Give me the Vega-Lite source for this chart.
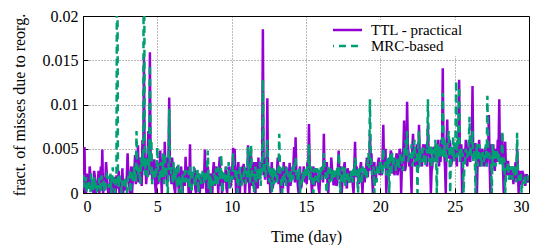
{
"$schema": "https://vega.github.io/schema/vega-lite/v6.json",
"width": 446, "height": 177,
"autosize": {"type": "none"},
"padding": {"left": 83, "top": 16, "right": 11, "bottom": 52},
"background": "white",
"config": {
 "font": "Liberation Serif, Times New Roman, DejaVu Serif, serif",
 "view": {"stroke": "black", "strokeWidth": 1},
 "axis": {"labelFontSize": 16, "labelColor": "black", "titleFontSize": 16, "titleColor": "black", "titleFontWeight": "normal", "labelFont": "Liberation Serif, Times New Roman, serif", "titleFont": "Liberation Serif, Times New Roman, serif", "gridColor": "#000", "gridOpacity": 0.55, "gridDash": [1, 2], "gridWidth": 1, "tickColor": "black", "tickSize": -5, "domain": false, "labelPadding": 10},
 "legend": {"labelFont": "Liberation Serif, Times New Roman, serif"}
},
"data": {"values": [
{"t":0,"a":0.001,"b":0.0014},{"t":0.1,"a":0.0052,"b":0.0006},{"t":0.2,"a":0,"b":0.0018},{"t":0.3,"a":0.0015,"b":0.001},{"t":0.4,"a":0.0005,"b":0.0012},{"t":0.5,"a":0.002,"b":0},{"t":0.6,"a":0.0012,"b":0.0016},{"t":0.7,"a":0,"b":0.0011},{"t":0.8,"a":0.0018,"b":0.0005},{"t":0.9,"a":0.0009,"b":0.0013},
{"t":1,"a":0.0014,"b":0.0009},{"t":1.1,"a":0,"b":0.0017},{"t":1.2,"a":0.003,"b":0},{"t":1.3,"a":0.0049,"b":0.0012},{"t":1.4,"a":0.0006,"b":0.0015},{"t":1.5,"a":0.0012,"b":0.0006},{"t":1.6,"a":0.0022,"b":0.002},{"t":1.7,"a":0,"b":0.001},{"t":1.8,"a":0.0003,"b":0.0014},{"t":1.9,"a":0.0015,"b":0},
{"t":2,"a":0.0006,"b":0.0029},{"t":2.1,"a":0.0018,"b":0.001},{"t":2.2,"a":0,"b":0.0012},{"t":2.3,"a":0.0012,"b":0.04},{"t":2.4,"a":0.0025,"b":0.0008},{"t":2.5,"a":0.0007,"b":0.0015},{"t":2.6,"a":0.001,"b":0},{"t":2.7,"a":0,"b":0.0012},{"t":2.8,"a":0.0016,"b":0.0009},{"t":2.9,"a":0.0008,"b":0.0005},
{"t":3,"a":0.0045,"b":0.0012},{"t":3.1,"a":0.0012,"b":0.0018},{"t":3.2,"a":0.002,"b":0},{"t":3.3,"a":0,"b":0.0025},{"t":3.4,"a":0.003,"b":0.0015},{"t":3.5,"a":0.0043,"b":0.002},{"t":3.6,"a":0.0018,"b":0.007},{"t":3.7,"a":0.0054,"b":0.003},{"t":3.8,"a":0.0025,"b":0.0022},{"t":3.9,"a":0.0035,"b":0.004},
{"t":4,"a":0.006,"b":0.0045},{"t":4.1,"a":0.0154,"b":0.04},{"t":4.2,"a":0.004,"b":0.003},{"t":4.3,"a":0.0025,"b":0.0035},{"t":4.4,"a":0.007,"b":0.0055},{"t":4.5,"a":0.0159,"b":0.0145},{"t":4.6,"a":0.0045,"b":0.006},{"t":4.7,"a":0.003,"b":0.002},{"t":4.8,"a":0.0038,"b":0.0025},{"t":4.9,"a":0,"b":0.003},
{"t":5,"a":0.0035,"b":0.0052},{"t":5.1,"a":0.0015,"b":0.002},{"t":5.2,"a":0.0048,"b":0.003},{"t":5.3,"a":0,"b":0.0018},{"t":5.4,"a":0.003,"b":0.0045},{"t":5.5,"a":0.0058,"b":0.0045},{"t":5.6,"a":0.004,"b":0.0025},{"t":5.7,"a":0.002,"b":0},{"t":5.8,"a":0.0108,"b":0.0095},{"t":5.9,"a":0.0025,"b":0.003},
{"t":6,"a":0.004,"b":0.002},{"t":6.1,"a":0.0012,"b":0.0035},{"t":6.2,"a":0,"b":0.0015},{"t":6.3,"a":0.0025,"b":0.0012},{"t":6.4,"a":0.0018,"b":0.0034},{"t":6.5,"a":0.001,"b":0},{"t":6.6,"a":0.003,"b":0.0018},{"t":6.7,"a":0,"b":0.0022},{"t":6.8,"a":0.0015,"b":0.0012},{"t":6.9,"a":0.0041,"b":0.0025},
{"t":7,"a":0.0015,"b":0.0018},{"t":7.1,"a":0,"b":0.0025},{"t":7.2,"a":0.0055,"b":0.003},{"t":7.3,"a":0.002,"b":0},{"t":7.4,"a":0.001,"b":0.0022},{"t":7.5,"a":0.0028,"b":0.0012},{"t":7.6,"a":0,"b":0.002},{"t":7.7,"a":0.0014,"b":0.0028},{"t":7.8,"a":0.0022,"b":0.001},{"t":7.9,"a":0.0009,"b":0.0016},
{"t":8,"a":0.0012,"b":0.0015},{"t":8.1,"a":0.0025,"b":0.002},{"t":8.2,"a":0.0049,"b":0.0025},{"t":8.3,"a":0,"b":0.0012},{"t":8.4,"a":0.003,"b":0.0048},{"t":8.5,"a":0.001,"b":0.0018},{"t":8.6,"a":0.0022,"b":0},{"t":8.7,"a":0,"b":0.0014},{"t":8.8,"a":0.0035,"b":0.0022},{"t":8.9,"a":0.0015,"b":0.001},
{"t":9,"a":0.002,"b":0.0012},{"t":9.1,"a":0,"b":0.003},{"t":9.2,"a":0.0041,"b":0.002},{"t":9.3,"a":0.0025,"b":0.0043},{"t":9.4,"a":0.0008,"b":0},{"t":9.5,"a":0.0015,"b":0.0022},{"t":9.6,"a":0.003,"b":0.001},{"t":9.7,"a":0,"b":0.0025},{"t":9.8,"a":0.0018,"b":0.0035},{"t":9.9,"a":0.0006,"b":0.0014},
{"t":10,"a":0.0018,"b":0.0022},{"t":10.1,"a":0.0051,"b":0.0045},{"t":10.2,"a":0.005,"b":0.003},{"t":10.3,"a":0,"b":0.0015},{"t":10.4,"a":0.0025,"b":0},{"t":10.5,"a":0.0008,"b":0.002},{"t":10.6,"a":0.002,"b":0.0028},{"t":10.7,"a":0.003,"b":0.0012},{"t":10.8,"a":0.0033,"b":0.0018},{"t":10.9,"a":0,"b":0.0025},
{"t":11,"a":0.0028,"b":0.0015},{"t":11.1,"a":0.0054,"b":0.0052},{"t":11.2,"a":0,"b":0.0025},{"t":11.3,"a":0.0048,"b":0.0054},{"t":11.4,"a":0.0015,"b":0.002},{"t":11.5,"a":0.0035,"b":0},{"t":11.6,"a":0,"b":0.003},{"t":11.7,"a":0.0022,"b":0.0018},{"t":11.8,"a":0.004,"b":0.0015},{"t":11.9,"a":0.0025,"b":0.0035},
{"t":12,"a":0.003,"b":0.0025},{"t":12.1,"a":0.0185,"b":0.0128},{"t":12.2,"a":0.0025,"b":0.0035},{"t":12.3,"a":0.004,"b":0.002},{"t":12.4,"a":0.0107,"b":0.006},{"t":12.5,"a":0.002,"b":0.003},{"t":12.6,"a":0,"b":0.0022},{"t":12.7,"a":0.0035,"b":0},{"t":12.8,"a":0.001,"b":0.0028},{"t":12.9,"a":0.0025,"b":0.0015},
{"t":13,"a":0.0018,"b":0.002},{"t":13.1,"a":0.004,"b":0.0028},{"t":13.2,"a":0.003,"b":0.0067},{"t":13.3,"a":0,"b":0.0018},{"t":13.4,"a":0.0022,"b":0},{"t":13.5,"a":0.0035,"b":0.0025},{"t":13.6,"a":0.0012,"b":0.0015},{"t":13.7,"a":0.0025,"b":0.003},{"t":13.8,"a":0,"b":0.002},{"t":13.9,"a":0.0034,"b":0.0012},
{"t":14,"a":0.0015,"b":0.0012},{"t":14.1,"a":0.0025,"b":0.003},{"t":14.2,"a":0.0052,"b":0.0035},{"t":14.3,"a":0.0063,"b":0.004},{"t":14.4,"a":0.002,"b":0.0025},{"t":14.5,"a":0,"b":0.0015},{"t":14.6,"a":0.003,"b":0},{"t":14.7,"a":0.0008,"b":0.001},{"t":14.8,"a":0.0018,"b":0.0025},{"t":14.9,"a":0.0022,"b":0.0015},
{"t":15,"a":0.002,"b":0.0025},{"t":15.1,"a":0.0035,"b":0.003},{"t":15.2,"a":0.0078,"b":0.0055},{"t":15.3,"a":0.0025,"b":0.002},{"t":15.4,"a":0,"b":0.0018},{"t":15.5,"a":0.003,"b":0},{"t":15.6,"a":0.001,"b":0.0028},{"t":15.7,"a":0.0022,"b":0.0015},{"t":15.8,"a":0.0018,"b":0.0022},{"t":15.9,"a":0,"b":0.0029},
{"t":16,"a":0.0015,"b":0.0029},{"t":16.1,"a":0.003,"b":0.002},{"t":16.2,"a":0.0067,"b":0.0045},{"t":16.3,"a":0.002,"b":0.0025},{"t":16.4,"a":0.0035,"b":0},{"t":16.5,"a":0,"b":0.003},{"t":16.6,"a":0.0025,"b":0.0012},{"t":16.7,"a":0.004,"b":0.0022},{"t":16.8,"a":0.0018,"b":0.0028},{"t":16.9,"a":0.001,"b":0.0015},
{"t":17,"a":0.0025,"b":0.002},{"t":17.1,"a":0.0012,"b":0.0028},{"t":17.2,"a":0.0048,"b":0.0045},{"t":17.3,"a":0.003,"b":0},{"t":17.4,"a":0,"b":0.0025},{"t":17.5,"a":0.0022,"b":0.0012},{"t":17.6,"a":0.0035,"b":0.003},{"t":17.7,"a":0.001,"b":0.0015},{"t":17.8,"a":0.0028,"b":0.0022},{"t":17.9,"a":0.0018,"b":0.001},
{"t":18,"a":0.0012,"b":0.0015},{"t":18.1,"a":0.0025,"b":0.0022},{"t":18.2,"a":0,"b":0.003},{"t":18.3,"a":0.0058,"b":0.004},{"t":18.4,"a":0.003,"b":0.0018},{"t":18.5,"a":0.0015,"b":0},{"t":18.6,"a":0.0022,"b":0.0012},{"t":18.7,"a":0.0035,"b":0.0028},{"t":18.8,"a":0,"b":0.003},{"t":18.9,"a":0.0018,"b":0.002},
{"t":19,"a":0.0025,"b":0.003},{"t":19.1,"a":0.004,"b":0.0022},{"t":19.2,"a":0.003,"b":0.0045},{"t":19.3,"a":0.0067,"b":0.0106},{"t":19.4,"a":0.0045,"b":0.0035},{"t":19.5,"a":0,"b":0.0025},{"t":19.6,"a":0.0035,"b":0},{"t":19.7,"a":0.0015,"b":0.0018},{"t":19.8,"a":0.0028,"b":0.003},{"t":19.9,"a":0.004,"b":0.0022},
{"t":20,"a":0.0035,"b":0.0025},{"t":20.1,"a":0.002,"b":0.003},{"t":20.2,"a":0.0077,"b":0.005},{"t":20.3,"a":0.0045,"b":0.0035},{"t":20.4,"a":0,"b":0.002},{"t":20.5,"a":0.0025,"b":0.004},{"t":20.6,"a":0.004,"b":0},{"t":20.7,"a":0.0048,"b":0.0035},{"t":20.8,"a":0.0022,"b":0.0045},{"t":20.9,"a":0.0038,"b":0.003},
{"t":21,"a":0.003,"b":0.0035},{"t":21.1,"a":0.0045,"b":0.0028},{"t":21.2,"a":0.0025,"b":0.004},{"t":21.3,"a":0.005,"b":0.003},{"t":21.4,"a":0,"b":0.0045},{"t":21.5,"a":0.004,"b":0.0025},{"t":21.6,"a":0.0082,"b":0.005},{"t":21.7,"a":0.0028,"b":0.006},{"t":21.8,"a":0.0103,"b":0.007},{"t":21.9,"a":0.0045,"b":0.0038},
{"t":22,"a":0.004,"b":0.0045},{"t":22.1,"a":0,"b":0.0055},{"t":22.2,"a":0.0067,"b":0.0035},{"t":22.3,"a":0.0045,"b":0.006},{"t":22.4,"a":0.0035,"b":0.004},{"t":22.5,"a":0.005,"b":0},{"t":22.6,"a":0.0077,"b":0.007},{"t":22.7,"a":0.004,"b":0.0045},{"t":22.8,"a":0.003,"b":0.0035},{"t":22.9,"a":0.0055,"b":0.005},
{"t":23,"a":0.0045,"b":0.004},{"t":23.1,"a":0.0035,"b":0.005},{"t":23.2,"a":0.0077,"b":0.0106},{"t":23.3,"a":0.005,"b":0.0035},{"t":23.4,"a":0,"b":0.0055},{"t":23.5,"a":0.003,"b":0.0045},{"t":23.6,"a":0.0052,"b":0.004},{"t":23.7,"a":0.0045,"b":0.006},{"t":23.8,"a":0.0035,"b":0},{"t":23.9,"a":0.006,"b":0.005},
{"t":24,"a":0.005,"b":0.0055},{"t":24.1,"a":0.006,"b":0.004},{"t":24.2,"a":0.0141,"b":0.0113},{"t":24.3,"a":0.0045,"b":0.006},{"t":24.4,"a":0,"b":0.0045},{"t":24.5,"a":0.0083,"b":0.005},{"t":24.6,"a":0.004,"b":0.007},{"t":24.7,"a":0.0055,"b":0},{"t":24.8,"a":0.0035,"b":0.0055},{"t":24.9,"a":0.0045,"b":0.0065},
{"t":25,"a":0.0055,"b":0.005},{"t":25.1,"a":0.004,"b":0.0127},{"t":25.2,"a":0.006,"b":0.006},{"t":25.3,"a":0.0128,"b":0.012},{"t":25.4,"a":0.0045,"b":0.0045},{"t":25.5,"a":0,"b":0.004},{"t":25.6,"a":0.005,"b":0},{"t":25.7,"a":0.004,"b":0.0035},{"t":25.8,"a":0.0055,"b":0.0045},{"t":25.9,"a":0.0048,"b":0.005},
{"t":26,"a":0.0045,"b":0.0086},{"t":26.1,"a":0.006,"b":0.005},{"t":26.2,"a":0.0121,"b":0.007},{"t":26.3,"a":0.004,"b":0.0045},{"t":26.4,"a":0.0055,"b":0},{"t":26.5,"a":0,"b":0.0055},{"t":26.6,"a":0.005,"b":0.004},{"t":26.7,"a":0.003,"b":0.005},{"t":26.8,"a":0.0045,"b":0.003},{"t":26.9,"a":0.004,"b":0.0045},
{"t":27,"a":0.0035,"b":0.004},{"t":27.1,"a":0.005,"b":0.0055},{"t":27.2,"a":0.0045,"b":0.011},{"t":27.3,"a":0.0088,"b":0.005},{"t":27.4,"a":0,"b":0.0035},{"t":27.5,"a":0.003,"b":0},{"t":27.6,"a":0.0055,"b":0.003},{"t":27.7,"a":0.0025,"b":0.005},{"t":27.8,"a":0.0045,"b":0.004},{"t":27.9,"a":0.006,"b":0.0035},
{"t":28,"a":0.0106,"b":0.0045},{"t":28.1,"a":0.004,"b":0.0035},{"t":28.2,"a":0.0067,"b":0.007},{"t":28.3,"a":0,"b":0.004},{"t":28.4,"a":0.0058,"b":0},{"t":28.5,"a":0.002,"b":0.0025},{"t":28.6,"a":0.0035,"b":0.0035},{"t":28.7,"a":0.0025,"b":0.002},{"t":28.8,"a":0.0015,"b":0.003},{"t":28.9,"a":0.003,"b":0.0015},
{"t":29,"a":0.002,"b":0.0025},{"t":29.1,"a":0.0035,"b":0.003},{"t":29.2,"a":0.005,"b":0.0068},{"t":29.3,"a":0,"b":0.002},{"t":29.4,"a":0.0025,"b":0.0015},{"t":29.5,"a":0.001,"b":0},{"t":29.6,"a":0.0022,"b":0.0012},{"t":29.7,"a":0.0015,"b":0.0018},{"t":29.8,"a":0.002,"b":0.001},{"t":29.9,"a":0.0012,"b":0.0015},
{"t":30,"a":0.0018,"b":0.0012},
{"t":0.05,"a":0.0003,"b":0.002},{"t":0.15,"a":0,"b":0.001},{"t":0.25,"a":0.0022,"b":0},{"t":0.35,"a":0.0008,"b":0.0015},{"t":0.45,"a":0.003,"b":0.0008},{"t":0.55,"a":0.0002,"b":0.0022},{"t":0.65,"a":0.0015,"b":0.0003},{"t":0.75,"a":0.0025,"b":0.0018},{"t":0.85,"a":0,"b":0.0012},{"t":0.95,"a":0.0012,"b":0},
{"t":1.05,"a":0.0025,"b":0.0005},{"t":1.15,"a":0.0008,"b":0.0012},{"t":1.25,"a":0.0012,"b":0.002},{"t":1.35,"a":0,"b":0.0008},{"t":1.45,"a":0.0018,"b":0},{"t":1.55,"a":0.0035,"b":0.0014},{"t":1.65,"a":0.0005,"b":0.0018},{"t":1.75,"a":0,"b":0.0006},{"t":1.85,"a":0.002,"b":0.0022},{"t":1.95,"a":0.001,"b":0.0012},
{"t":2.05,"a":0,"b":0.0015},{"t":2.15,"a":0.001,"b":0},{"t":2.25,"a":0.002,"b":0.0018},{"t":2.35,"a":0.0005,"b":0.0006},{"t":2.45,"a":0,"b":0.002},{"t":2.55,"a":0.0015,"b":0.001},{"t":2.65,"a":0.0028,"b":0.0014},{"t":2.75,"a":0.0012,"b":0.0008},{"t":2.85,"a":0.0003,"b":0.0018},{"t":2.95,"a":0.002,"b":0},
{"t":3.05,"a":0.002,"b":0.0018},{"t":3.15,"a":0,"b":0.0025},{"t":3.25,"a":0.003,"b":0.0008},{"t":3.35,"a":0.0015,"b":0.0015},{"t":3.45,"a":0.0022,"b":0.003},{"t":3.55,"a":0.001,"b":0.0012},{"t":3.65,"a":0.0035,"b":0.0025},{"t":3.75,"a":0.0012,"b":0.0018},{"t":3.85,"a":0.004,"b":0.001},{"t":3.95,"a":0.0008,"b":0.003},
{"t":4.05,"a":0.0025,"b":0.003},{"t":4.15,"a":0.0035,"b":0.002},{"t":4.25,"a":0.001,"b":0.004},{"t":4.35,"a":0.0045,"b":0.0015},{"t":4.45,"a":0.002,"b":0.0025},{"t":4.55,"a":0.003,"b":0.0035},{"t":4.65,"a":0.0015,"b":0.001},{"t":4.75,"a":0.0025,"b":0.0028},{"t":4.85,"a":0.001,"b":0.0015},{"t":4.95,"a":0.003,"b":0.0022},
{"t":5.05,"a":0.001,"b":0.0025},{"t":5.15,"a":0.003,"b":0.0012},{"t":5.25,"a":0.002,"b":0.0035},{"t":5.35,"a":0.0038,"b":0.002},{"t":5.45,"a":0.0015,"b":0.001},{"t":5.55,"a":0.0025,"b":0.003},{"t":5.65,"a":0.0008,"b":0.0015},{"t":5.75,"a":0.0035,"b":0.0022},{"t":5.85,"a":0.002,"b":0.003},{"t":5.95,"a":0.001,"b":0.0018},
{"t":6.05,"a":0.002,"b":0.001},{"t":6.15,"a":0.0005,"b":0.0022},{"t":6.25,"a":0.0018,"b":0.0028},{"t":6.35,"a":0.003,"b":0.0005},{"t":6.45,"a":0,"b":0.002},{"t":6.55,"a":0.0022,"b":0.0015},{"t":6.65,"a":0.0012,"b":0},{"t":6.75,"a":0.0025,"b":0.0018},{"t":6.85,"a":0.0008,"b":0.0025},{"t":6.95,"a":0.0015,"b":0.0012},
{"t":7.05,"a":0.003,"b":0.0012},{"t":7.15,"a":0.0012,"b":0.0005},{"t":7.25,"a":0,"b":0.002},{"t":7.35,"a":0.0022,"b":0.0018},{"t":7.45,"a":0.0018,"b":0.003},{"t":7.55,"a":0.0005,"b":0.0008},{"t":7.65,"a":0.0025,"b":0.0015},{"t":7.75,"a":0.001,"b":0},{"t":7.85,"a":0,"b":0.0022},{"t":7.95,"a":0.002,"b":0.001},
{"t":8.05,"a":0.0005,"b":0.0025},{"t":8.15,"a":0.002,"b":0.001},{"t":8.25,"a":0.0015,"b":0.0018},{"t":8.35,"a":0.0028,"b":0.003},{"t":8.45,"a":0,"b":0.0005},{"t":8.55,"a":0.0018,"b":0.0022},{"t":8.65,"a":0.001,"b":0.0015},{"t":8.75,"a":0.0025,"b":0.0008},{"t":8.85,"a":0.0008,"b":0.002},{"t":8.95,"a":0.003,"b":0.0028},
{"t":9.05,"a":0.0015,"b":0.0008},{"t":9.15,"a":0.0028,"b":0.0022},{"t":9.25,"a":0.0008,"b":0.0015},{"t":9.35,"a":0,"b":0.001},{"t":9.45,"a":0.002,"b":0.0025},{"t":9.55,"a":0.0012,"b":0.0018},{"t":9.65,"a":0.0005,"b":0.003},{"t":9.75,"a":0.0025,"b":0.0012},{"t":9.85,"a":0.003,"b":0.0005},{"t":9.95,"a":0.001,"b":0.002},
{"t":10.05,"a":0.003,"b":0.0015},{"t":10.15,"a":0.0015,"b":0.003},{"t":10.25,"a":0.0022,"b":0.002},{"t":10.35,"a":0.001,"b":0.0025},{"t":10.45,"a":0.0035,"b":0.0012},{"t":10.55,"a":0,"b":0.0028},{"t":10.65,"a":0.0018,"b":0.0008},{"t":10.75,"a":0.0012,"b":0.002},{"t":10.85,"a":0.0025,"b":0.003},{"t":10.95,"a":0.002,"b":0.001},
{"t":11.05,"a":0.0012,"b":0.0025},{"t":11.15,"a":0.002,"b":0.0018},{"t":11.25,"a":0.003,"b":0.001},{"t":11.35,"a":0.0008,"b":0.003},{"t":11.45,"a":0.0025,"b":0.0015},{"t":11.55,"a":0.0018,"b":0.0022},{"t":11.65,"a":0.0035,"b":0.0012},{"t":11.75,"a":0.0005,"b":0.0028},{"t":11.85,"a":0.0015,"b":0.002},{"t":11.95,"a":0.003,"b":0.0008},
{"t":12.05,"a":0.004,"b":0.003},{"t":12.15,"a":0.002,"b":0.0022},{"t":12.25,"a":0.0015,"b":0.0018},{"t":12.35,"a":0.003,"b":0.0035},{"t":12.45,"a":0.001,"b":0.0025},{"t":12.55,"a":0.0025,"b":0.0012},{"t":12.65,"a":0.0018,"b":0.003},{"t":12.75,"a":0.0005,"b":0.0015},{"t":12.85,"a":0.0022,"b":0.001},{"t":12.95,"a":0.0012,"b":0.0022},
{"t":13.05,"a":0.0025,"b":0.0012},{"t":13.15,"a":0.001,"b":0.002},{"t":13.25,"a":0.002,"b":0.0025},{"t":13.35,"a":0.0028,"b":0.001},{"t":13.45,"a":0.0005,"b":0.003},{"t":13.55,"a":0.0015,"b":0.0018},{"t":13.65,"a":0.003,"b":0.0008},{"t":13.75,"a":0.0012,"b":0.0022},{"t":13.85,"a":0.002,"b":0.0015},{"t":13.95,"a":0.0008,"b":0.0025},
{"t":14.05,"a":0.002,"b":0.0025},{"t":14.15,"a":0.003,"b":0.0015},{"t":14.25,"a":0.0012,"b":0.003},{"t":14.35,"a":0.0025,"b":0.002},{"t":14.45,"a":0.0008,"b":0.0012},{"t":14.55,"a":0.0018,"b":0.0028},{"t":14.65,"a":0.0005,"b":0.0015},{"t":14.75,"a":0.0022,"b":0.0008},{"t":14.85,"a":0.003,"b":0.002},{"t":14.95,"a":0.0012,"b":0.003},
{"t":15.05,"a":0.001,"b":0.0018},{"t":15.15,"a":0.0025,"b":0.0022},{"t":15.25,"a":0.003,"b":0.0012},{"t":15.35,"a":0.0015,"b":0.003},{"t":15.45,"a":0.002,"b":0.001},{"t":15.55,"a":0.0008,"b":0.0025},{"t":15.65,"a":0.0028,"b":0.0015},{"t":15.75,"a":0.0012,"b":0.0028},{"t":15.85,"a":0.0005,"b":0.0012},{"t":15.95,"a":0.002,"b":0.002},
{"t":16.05,"a":0.0025,"b":0.0015},{"t":16.15,"a":0.0012,"b":0.0025},{"t":16.25,"a":0.002,"b":0.003},{"t":16.35,"a":0.003,"b":0.001},{"t":16.45,"a":0.0008,"b":0.0022},{"t":16.55,"a":0.0022,"b":0.0018},{"t":16.65,"a":0.0015,"b":0.0028},{"t":16.75,"a":0.0028,"b":0.0012},{"t":16.85,"a":0.001,"b":0.002},{"t":16.95,"a":0.002,"b":0.0025},
{"t":17.05,"a":0.0008,"b":0.0022},{"t":17.15,"a":0.003,"b":0.0015},{"t":17.25,"a":0.0015,"b":0.0028},{"t":17.35,"a":0.0022,"b":0.0012},{"t":17.45,"a":0.0012,"b":0.003},{"t":17.55,"a":0.0028,"b":0.002},{"t":17.65,"a":0.0018,"b":0.0008},{"t":17.75,"a":0.0005,"b":0.0025},{"t":17.85,"a":0.002,"b":0.0015},{"t":17.95,"a":0.0025,"b":0.0018},
{"t":18.05,"a":0.002,"b":0.0025},{"t":18.15,"a":0.0008,"b":0.0012},{"t":18.25,"a":0.003,"b":0.002},{"t":18.35,"a":0.0018,"b":0.0035},{"t":18.45,"a":0.0025,"b":0.0015},{"t":18.55,"a":0.001,"b":0.0028},{"t":18.65,"a":0.0028,"b":0.002},{"t":18.75,"a":0.0015,"b":0.001},{"t":18.85,"a":0.0022,"b":0.0025},{"t":18.95,"a":0.0012,"b":0.003},
{"t":19.05,"a":0.003,"b":0.0015},{"t":19.15,"a":0.0018,"b":0.0035},{"t":19.25,"a":0.0025,"b":0.0028},{"t":19.35,"a":0.004,"b":0.004},{"t":19.45,"a":0.002,"b":0.002},{"t":19.55,"a":0.003,"b":0.003},{"t":19.65,"a":0.0012,"b":0.0025},{"t":19.75,"a":0.0028,"b":0.0012},{"t":19.85,"a":0.0035,"b":0.0028},{"t":19.95,"a":0.002,"b":0.0035},
{"t":20.05,"a":0.0025,"b":0.0035},{"t":20.15,"a":0.004,"b":0.002},{"t":20.25,"a":0.003,"b":0.004},{"t":20.35,"a":0.005,"b":0.0028},{"t":20.45,"a":0.0018,"b":0.003},{"t":20.55,"a":0.0035,"b":0.0025},{"t":20.65,"a":0.0028,"b":0.0045},{"t":20.75,"a":0.0045,"b":0.002},{"t":20.85,"a":0.003,"b":0.0035},{"t":20.95,"a":0.002,"b":0.004},
{"t":21.05,"a":0.004,"b":0.0025},{"t":21.15,"a":0.002,"b":0.004},{"t":21.25,"a":0.0035,"b":0.003},{"t":21.35,"a":0.0045,"b":0.0045},{"t":21.45,"a":0.003,"b":0.0035},{"t":21.55,"a":0.005,"b":0.0028},{"t":21.65,"a":0.0025,"b":0.004},{"t":21.75,"a":0.004,"b":0.005},{"t":21.85,"a":0.0055,"b":0.0035},{"t":21.95,"a":0.003,"b":0.0045},
{"t":22.05,"a":0.0025,"b":0.004},{"t":22.15,"a":0.005,"b":0.003},{"t":22.25,"a":0.004,"b":0.005},{"t":22.35,"a":0.003,"b":0.0035},{"t":22.45,"a":0.0055,"b":0.0045},{"t":22.55,"a":0.0028,"b":0.0055},{"t":22.65,"a":0.0045,"b":0.003},{"t":22.75,"a":0.0035,"b":0.004},{"t":22.85,"a":0.005,"b":0.005},{"t":22.95,"a":0.004,"b":0.0035},
{"t":23.05,"a":0.0055,"b":0.003},{"t":23.15,"a":0.003,"b":0.0045},{"t":23.25,"a":0.0045,"b":0.0055},{"t":23.35,"a":0.004,"b":0.004},{"t":23.45,"a":0.0025,"b":0.003},{"t":23.55,"a":0.005,"b":0.005},{"t":23.65,"a":0.0035,"b":0.0035},{"t":23.75,"a":0.0055,"b":0.0045},{"t":23.85,"a":0.004,"b":0.0055},{"t":23.95,"a":0.003,"b":0.004},
{"t":24.05,"a":0.0035,"b":0.0045},{"t":24.15,"a":0.005,"b":0.0055},{"t":24.25,"a":0.0045,"b":0.004},{"t":24.35,"a":0.003,"b":0.005},{"t":24.45,"a":0.0055,"b":0.0035},{"t":24.55,"a":0.004,"b":0.006},{"t":24.65,"a":0.006,"b":0.0045},{"t":24.75,"a":0.003,"b":0.005},{"t":24.85,"a":0.005,"b":0.004},{"t":24.95,"a":0.004,"b":0.0035},
{"t":25.05,"a":0.004,"b":0.006},{"t":25.15,"a":0.003,"b":0.004},{"t":25.25,"a":0.005,"b":0.0055},{"t":25.35,"a":0.0045,"b":0.0035},{"t":25.45,"a":0.0055,"b":0.005},{"t":25.55,"a":0.0035,"b":0.0045},{"t":25.65,"a":0.0045,"b":0.003},{"t":25.75,"a":0.006,"b":0.005},{"t":25.85,"a":0.003,"b":0.004},{"t":25.95,"a":0.005,"b":0.0055},
{"t":26.05,"a":0.0035,"b":0.004},{"t":26.15,"a":0.005,"b":0.0055},{"t":26.25,"a":0.004,"b":0.0035},{"t":26.35,"a":0.0055,"b":0.005},{"t":26.45,"a":0.003,"b":0.0045},{"t":26.55,"a":0.0045,"b":0.003},{"t":26.65,"a":0.006,"b":0.0055},{"t":26.75,"a":0.0035,"b":0.004},{"t":26.85,"a":0.005,"b":0.0045},{"t":26.95,"a":0.003,"b":0.0035},
{"t":27.05,"a":0.005,"b":0.0045},{"t":27.15,"a":0.003,"b":0.003},{"t":27.25,"a":0.0045,"b":0.005},{"t":27.35,"a":0.0035,"b":0.004},{"t":27.45,"a":0.0055,"b":0.0035},{"t":27.55,"a":0.004,"b":0.0055},{"t":27.65,"a":0.003,"b":0.004},{"t":27.75,"a":0.005,"b":0.003},{"t":27.85,"a":0.0035,"b":0.005},{"t":27.95,"a":0.0045,"b":0.004},
{"t":28.05,"a":0.0035,"b":0.003},{"t":28.15,"a":0.005,"b":0.004},{"t":28.25,"a":0.003,"b":0.0025},{"t":28.35,"a":0.004,"b":0.0035},{"t":28.45,"a":0.0025,"b":0.002},{"t":28.55,"a":0.0035,"b":0.003},{"t":28.65,"a":0.002,"b":0.0015},{"t":28.75,"a":0.003,"b":0.0025},{"t":28.85,"a":0.0025,"b":0.002},{"t":28.95,"a":0.001,"b":0.003},
{"t":29.05,"a":0.0025,"b":0.002},{"t":29.15,"a":0.0015,"b":0.0012},{"t":29.25,"a":0.003,"b":0.0025},{"t":29.35,"a":0.002,"b":0.0015},{"t":29.45,"a":0.001,"b":0.0022},{"t":29.55,"a":0.0025,"b":0.001},{"t":29.65,"a":0.0018,"b":0.0018},{"t":29.75,"a":0.0008,"b":0.0012},{"t":29.85,"a":0.002,"b":0.0015},{"t":29.95,"a":0.0015,"b":0.002}
]},
"transform": [{"fold": ["a", "b"], "as": ["s", "v"]}],
"mark": {"type": "line", "strokeWidth": 2.5, "clip": true},
"encoding": {
 "x": {"field": "t", "type": "quantitative", "scale": {"domain": [0, 30], "nice": false}, "axis": {"title": "Time (day)", "values": [0, 5, 10, 15, 20, 25, 30], "labelAngle": 0, "titleY": 43, "titleBaseline": "middle"}},
 "y": {"field": "v", "type": "quantitative", "scale": {"domain": [0, 0.02], "nice": false}, "axis": {"title": "fract. of misses due to reorg.", "values": [0, 0.005, 0.01, 0.015, 0.02], "format": "~g", "titleX": -64, "titleBaseline": "middle", "titleAngle": -90}},
 "color": {"field": "s", "type": "nominal", "scale": {"domain": ["a", "b"], "range": ["#9400D3", "#009E73"]}, "legend": {"title": null, "orient": "none", "legendX": 248, "legendY": 4, "symbolType": "M-1.75,0L1.75,0", "symbolSize": 400, "symbolStrokeWidth": 2.5, "labelFontSize": 15, "labelColor": "black", "labelOffset": 15, "clipHeight": 16, "rowPadding": -1, "fillColor": "white", "padding": 2, "labelExpr": "datum.label == 'a' ? 'TTL - practical' : 'MRC-based'"}},
 "strokeDash": {"field": "s", "type": "nominal", "scale": {"domain": ["a", "b"], "range": [[1, 0], [7, 5]]}, "legend": {"title": null, "orient": "none", "legendX": 248, "legendY": 4, "symbolType": "M-1.75,0L1.75,0", "symbolSize": 400, "symbolStrokeWidth": 2.5, "labelFontSize": 15, "labelColor": "black", "labelOffset": 15, "clipHeight": 16, "rowPadding": -1, "fillColor": "white", "padding": 2, "labelExpr": "datum.label == 'a' ? 'TTL - practical' : 'MRC-based'"}}
}
}
